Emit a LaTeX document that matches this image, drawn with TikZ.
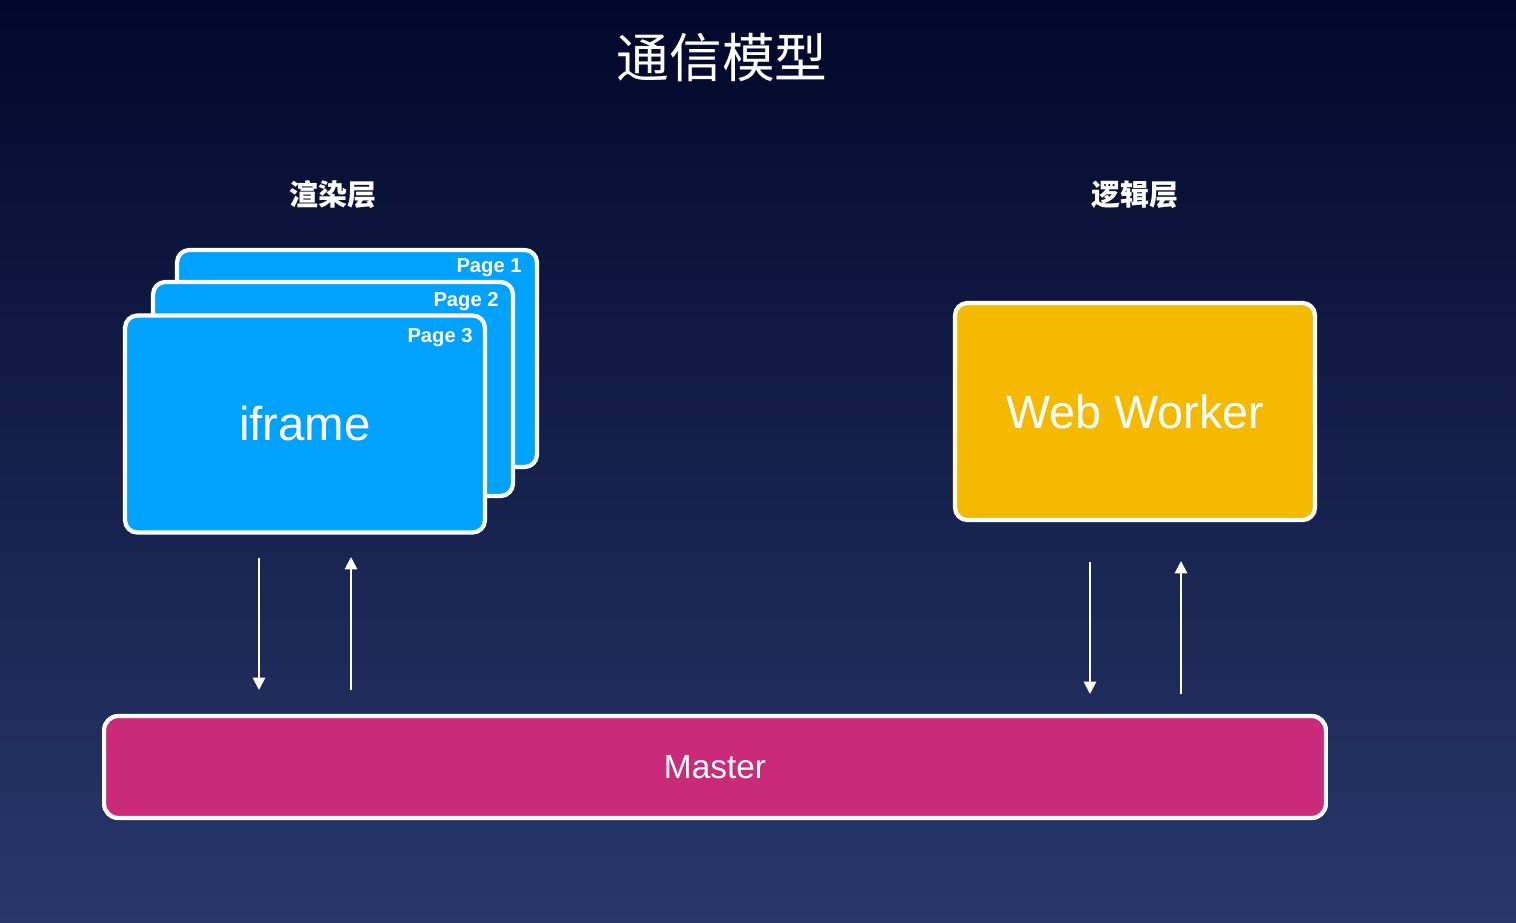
\documentclass[tikz,border=0pt]{standalone}
\usepackage{fontspec}
\setmainfont{Liberation Sans}
\newfontfamily\cjk{Noto Sans CJK SC}
\usetikzlibrary{arrows.meta}

\definecolor{bgtop}{RGB}{2,8,42}
\definecolor{bgbot}{RGB}{40,56,108}
\definecolor{pageblue}{RGB}{0,162,255}
\definecolor{workeryellow}{RGB}{245,186,0}
\definecolor{mastermagenta}{RGB}{201,42,122}

\begin{document}
\begin{tikzpicture}[x=0.02cm, y=-0.02cm,
    card/.style={draw=white, line width=2.4pt, rounded corners=7pt,
                 minimum width=7.2cm, minimum height=4.34cm, text=white},
    pagelbl/.style={anchor=base east, inner sep=0pt, text=white, font=\fontsize{11.5}{13}\selectfont\bfseries},
    layerlbl/.style={text=white, font=\cjk\fontsize{16.5}{20}\selectfont\bfseries},
    flow/.style={draw=white, line width=1.1pt, -{Triangle[width=7pt,length=7pt]}}]
    % background, fixes the bounding box too
    \shade[top color=bgtop, bottom color=bgbot] (0,0) rectangle (1516,923);
    \useasboundingbox (0,0) rectangle (1516,923);

    % title and layer names
    \node[text=white, font=\cjk\fontsize{30}{36}\selectfont] (title) at (722,58) {通信模型};
    \node[layerlbl] (render) at (333,195) {渲染层};
    \node[layerlbl] (logic) at (1135,195) {逻辑层};

    % stack of pages, back to front
    \node[card, fill=pageblue] (page1) at (357,358.5) {};
    \node[pagelbl] at (522,272) {Page 1};
    \node[card, fill=pageblue, minimum height=4.28cm] (page2) at (333,389) {};
    \node[pagelbl] at (499,306) {Page 2};
    \node[card, fill=pageblue, font=\fontsize{27}{32}\selectfont] (page3) at (305,424) {iframe};
    \node[pagelbl] at (473,342) {Page 3};

    % logic layer
    \node[card, fill=workeryellow, font=\fontsize{26.6}{32}\selectfont] (worker) at (1135,411.5) {Web Worker};

    % master bar
    \node[draw=white, line width=2.4pt, rounded corners=8pt, fill=mastermagenta,
          minimum width=24.44cm, minimum height=2.04cm, text=white,
          font=\fontsize{19}{23}\selectfont] (master) at (715,767) {Master};

    % message flow
    \coordinate (iframeOut) at (259,558);
    \coordinate (masterIn)  at (259,690);
    \coordinate (masterOut) at (351,690);
    \coordinate (iframeIn)  at (351,557);
    \coordinate (workerOut) at (1090,562);
    \coordinate (masterIn2) at (1090,694);
    \coordinate (masterOut2) at (1181,694);
    \coordinate (workerIn)  at (1181,561);
    \draw[flow] (iframeOut) -- (masterIn);
    \draw[flow] (masterOut) -- (iframeIn);
    \draw[flow] (workerOut) -- (masterIn2);
    \draw[flow] (masterOut2) -- (workerIn);
\end{tikzpicture}
\end{document}
